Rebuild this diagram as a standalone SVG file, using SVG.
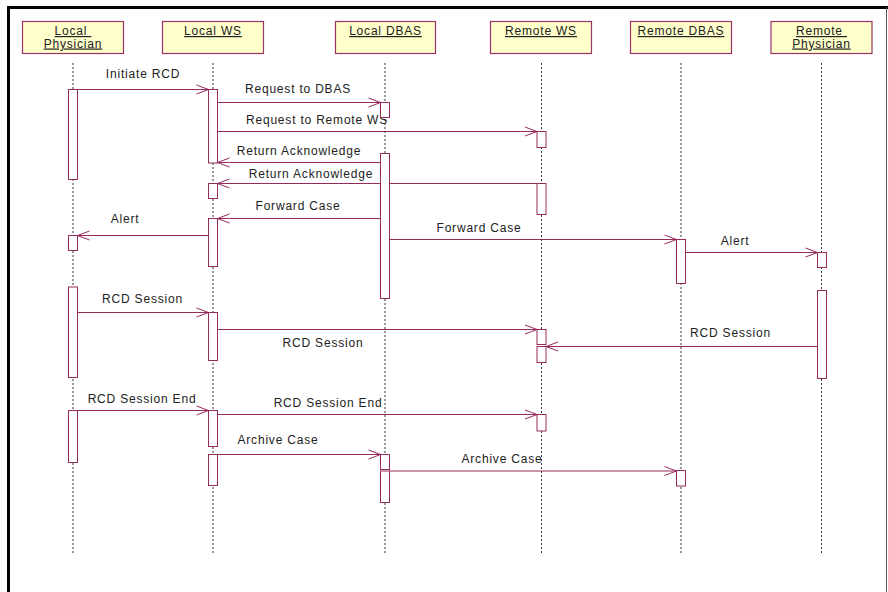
<svg xmlns="http://www.w3.org/2000/svg" width="888" height="592" viewBox="0 0 888 592">
  <style>
    .frame { fill: none; stroke: #000; }
    .head { fill: #ffffcc; stroke: #993366; stroke-width: 1.2; }
    .htxt { font-family: "Liberation Sans", Arial, sans-serif; font-size: 12px; letter-spacing: 0.8px; fill: #222; text-anchor: middle; text-decoration: underline; }
    .life { stroke: #333; stroke-width: 1; stroke-dasharray: 2 2; fill: none; }
    .msg { stroke: #962a5a; stroke-width: 1; fill: none; marker-end: url(#open); }
    .mtxt { font-family: "Liberation Sans", Arial, sans-serif; font-size: 12px; letter-spacing: 0.8px; fill: #222; text-anchor: middle; }
    .act { fill: #fff; stroke: #962a5a; stroke-width: 1; }
  </style>
  <defs>
    <marker id="open" viewBox="-13 -6 14 12" refX="0" refY="0" markerWidth="14" markerHeight="12" markerUnits="userSpaceOnUse" orient="auto">
      <path d="M-12,-4.5 L0,0 L-12,4.5" fill="none" stroke="#962a5a" stroke-width="1"/>
    </marker>
  </defs>

  <rect x="0" y="0" width="888" height="592" fill="#fff"/>
  <!-- window frame -->
  <line x1="8.5" y1="7" x2="8.5" y2="592" stroke="#000" stroke-width="3"/>
  <line x1="7" y1="7.5" x2="888" y2="7.5" stroke="#000" stroke-width="3"/>
  <line x1="886.5" y1="7" x2="886.5" y2="592" stroke="#555" stroke-width="1"/>

  <!-- participants: header box and lifeline -->
  <g id="local-physician">
    <rect class="head" x="22.5" y="21.5" width="101" height="32"/>
    <text class="htxt" x="73" y="35">Local&#160;</text>
    <text class="htxt" x="73" y="47.5">Physician</text>
    <line class="life" x1="73" y1="63" x2="73" y2="553"/>
  </g>
  <g id="local-ws">
    <rect class="head" x="162.5" y="21.5" width="101" height="32"/>
    <text class="htxt" x="213" y="35">Local WS</text>
    <line class="life" x1="213" y1="63" x2="213" y2="553"/>
  </g>
  <g id="local-dbas">
    <rect class="head" x="335.5" y="21.5" width="100" height="32"/>
    <text class="htxt" x="385.5" y="35">Local DBAS</text>
    <line class="life" x1="385" y1="63" x2="385" y2="553"/>
  </g>
  <g id="remote-ws">
    <rect class="head" x="490.5" y="21.5" width="101" height="32"/>
    <text class="htxt" x="541" y="35">Remote WS</text>
    <line class="life" x1="541.5" y1="63" x2="541.5" y2="553"/>
  </g>
  <g id="remote-dbas">
    <rect class="head" x="630.5" y="21.5" width="101" height="32"/>
    <text class="htxt" x="681" y="35">Remote DBAS</text>
    <line class="life" x1="681" y1="63" x2="681" y2="553"/>
  </g>
  <g id="remote-physician">
    <rect class="head" x="771" y="21.5" width="101" height="32"/>
    <text class="htxt" x="821.5" y="35">Remote&#160;</text>
    <text class="htxt" x="821.5" y="47.5">Physician</text>
    <line class="life" x1="821.5" y1="63" x2="821.5" y2="553"/>
  </g>

  <!-- messages -->
  <g id="messages">
    <line class="msg" x1="77.5" y1="89.5" x2="208.5" y2="89.5"/>
    <text class="mtxt" x="143" y="78">Initiate RCD</text>

    <line class="msg" x1="217.5" y1="102.5" x2="380.5" y2="102.5"/>
    <text class="mtxt" x="298" y="93">Request to DBAS</text>

    <line class="msg" x1="217.5" y1="131.5" x2="537" y2="131.5"/>
    <text class="mtxt" x="317" y="124">Request to Remote WS</text>

    <line class="msg" x1="380.5" y1="162.5" x2="217.5" y2="162.5"/>
    <text class="mtxt" x="299" y="155">Return Acknowledge</text>

    <line class="msg" x1="537" y1="183.5" x2="217.5" y2="183.5"/>
    <text class="mtxt" x="311" y="177.5">Return Acknowledge</text>

    <line class="msg" x1="380.5" y1="218.5" x2="217.5" y2="218.5"/>
    <text class="mtxt" x="298" y="210">Forward Case</text>

    <line class="msg" x1="208.5" y1="235.5" x2="77.5" y2="235.5"/>
    <text class="mtxt" x="125" y="223">Alert</text>

    <line class="msg" x1="389.5" y1="239.5" x2="676.5" y2="239.5"/>
    <text class="mtxt" x="479" y="231.5">Forward Case</text>

    <line class="msg" x1="685.5" y1="252.5" x2="817.5" y2="252.5"/>
    <text class="mtxt" x="735" y="245">Alert</text>

    <line class="msg" x1="77.5" y1="312.5" x2="208.5" y2="312.5"/>
    <text class="mtxt" x="142.5" y="303">RCD Session</text>

    <line class="msg" x1="217.5" y1="329.5" x2="537" y2="329.5"/>
    <text class="mtxt" x="323" y="346.5">RCD Session</text>

    <line class="msg" x1="817.5" y1="346.5" x2="546" y2="346.5"/>
    <text class="mtxt" x="730.5" y="336.5">RCD Session</text>

    <line class="msg" x1="77.5" y1="410.5" x2="208.5" y2="410.5"/>
    <text class="mtxt" x="142" y="403">RCD Session End</text>

    <line class="msg" x1="217.5" y1="414.5" x2="537" y2="414.5"/>
    <text class="mtxt" x="328" y="406.5">RCD Session End</text>

    <line class="msg" x1="217.5" y1="454.5" x2="380.5" y2="454.5"/>
    <text class="mtxt" x="278" y="444">Archive Case</text>

    <line class="msg" x1="389.5" y1="471" x2="676.5" y2="471"/>
    <text class="mtxt" x="502" y="462.5">Archive Case</text>
  </g>

  <!-- activation bars -->
  <g id="activations">
    <rect class="act" x="68.5" y="89.5" width="9" height="90"/>
    <rect class="act" x="68.5" y="235.5" width="9" height="15"/>
    <rect class="act" x="68.5" y="287" width="9" height="90.5"/>
    <rect class="act" x="68.5" y="410.5" width="9" height="52"/>

    <rect class="act" x="208.5" y="89.5" width="9" height="73.5"/>
    <rect class="act" x="208.5" y="183.5" width="9" height="15"/>
    <rect class="act" x="208.5" y="218.5" width="9" height="48"/>
    <rect class="act" x="208.5" y="312.5" width="9" height="48"/>
    <rect class="act" x="208.5" y="410.5" width="9" height="36"/>
    <rect class="act" x="208.5" y="454.5" width="9" height="31"/>

    <rect class="act" x="380.5" y="102.5" width="9" height="15"/>
    <rect class="act" x="380.5" y="153.5" width="9" height="145"/>
    <rect class="act" x="380.5" y="454.5" width="9" height="15"/>
    <rect class="act" x="380.5" y="471" width="9" height="31.5"/>

    <rect class="act" x="537" y="131.5" width="9" height="16"/>
    <rect class="act" x="537" y="183.5" width="9" height="31"/>
    <rect class="act" x="537" y="329.5" width="9" height="15"/>
    <rect class="act" x="537" y="346.5" width="9" height="16"/>
    <rect class="act" x="537" y="414.5" width="9" height="16.5"/>

    <rect class="act" x="676.5" y="239.5" width="9" height="44"/>
    <rect class="act" x="676.5" y="470.5" width="9" height="15.5"/>

    <rect class="act" x="817.5" y="252.5" width="9" height="15"/>
    <rect class="act" x="817.5" y="290.5" width="9" height="88"/>
  </g>
</svg>
